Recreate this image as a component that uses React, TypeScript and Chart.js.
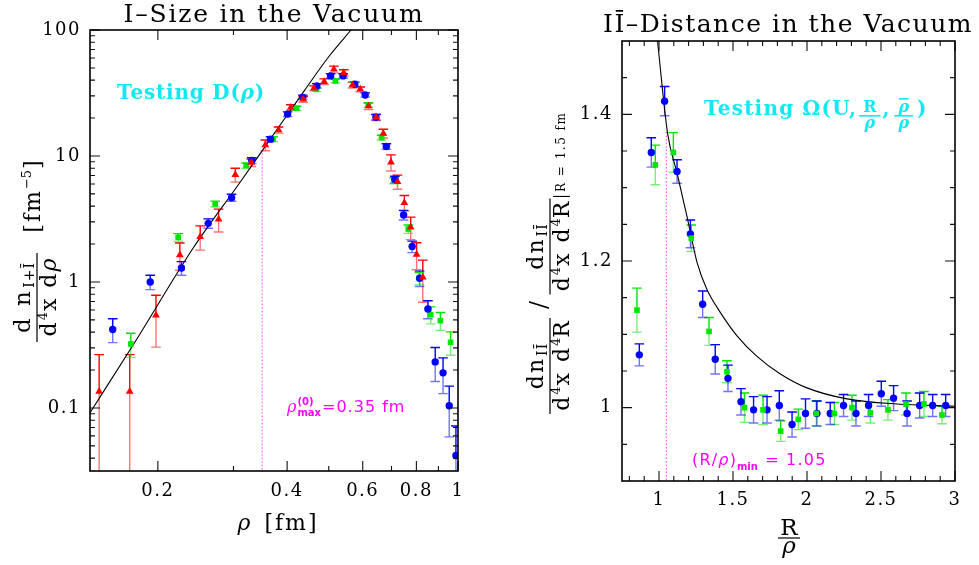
import { useEffect, useRef } from 'react';
import { Chart, registerables } from 'chart.js';

Chart.register(...registerables);

// ---------------- Left panel: instanton size distribution ----------------
const sizeBlueRho = [0.157, 0.192, 0.227, 0.262, 0.297, 0.331, 0.366, 0.401, 0.435, 0.469, 0.505, 0.54, 0.575, 0.608, 0.644, 0.681, 0.713, 0.747, 0.782, 0.814, 0.851, 0.885, 0.923, 0.954, 0.989];
const sizeBlueDens = [0.42, 1.0, 1.29, 2.92, 4.67, 9.2, 13.6, 21.5, 29.2, 36, 43.2, 43.2, 37.1, 30.5, 20.3, 11.9, 6.5, 3.4, 1.91, 1.07, 0.61, 0.232, 0.19, 0.104, 0.042];
const sizeBlueErr = [0.09, 0.13, 0.16, 0.25, 0.3, 0.5, 0.6, 0.9, 1.2, 1.5, 1.8, 1.8, 1.5, 1.2, 1.0, 0.6, 0.4, 0.3, 0.2, 0.15, 0.1, 0.07, 0.06, 0.045, 0.03];

const sizeGreenRho = [0.173, 0.223, 0.272, 0.321, 0.371, 0.421, 0.468, 0.518, 0.572, 0.618, 0.664, 0.71, 0.766, 0.813, 0.864, 0.91, 0.961];
const sizeGreenDens = [0.322, 2.26, 4.16, 8.4, 13.6, 23.9, 33.8, 39.4, 37.3, 25.4, 14.0, 6.37, 2.63, 1.07, 0.55, 0.493, 0.332];
const sizeGreenErr = [0.07, 0.16, 0.22, 0.4, 0.6, 0.9, 1.2, 1.3, 1.3, 1.0, 0.6, 0.35, 0.2, 0.12, 0.085, 0.08, 0.07];

const sizeRedRho = [0.146, 0.172, 0.198, 0.225, 0.251, 0.277, 0.303, 0.33, 0.356, 0.382, 0.408, 0.436, 0.462, 0.488, 0.514, 0.542, 0.568, 0.592, 0.619, 0.645, 0.67, 0.698, 0.723, 0.75, 0.776, 0.801, 0.828];
const sizeRedDens = [0.135, 0.135, 0.544, 1.64, 2.29, 3.14, 7.1, 8.86, 12.2, 16.1, 24.3, 28.2, 34.5, 38.9, 48.7, 45.8, 36.6, 33.8, 24.9, 20.3, 15.1, 8.9, 6.25, 4.26, 2.72, 1.65, 1.09];
const sizeRedErr = [0.13, 0.13, 0.24, 0.4, 0.5, 0.65, 0.9, 0.6, 1.2, 0.9, 1.2, 1.5, 1.5, 2.0, 3.0, 2.5, 2.0, 1.5, 1.5, 1.2, 1.2, 1.3, 0.8, 0.6, 0.55, 0.4, 0.4];

const sizeCurveRho = [0.139, 0.178, 0.2415, 0.31, 0.358, 0.44, 0.503, 0.5635];
const sizeCurveDens = [0.0917, 0.345, 1.85, 6.1, 12.3, 33.5, 63, 100];

const rhoMax0 = 0.35;
const rhoMaxTop = 10.5;
const sizeXMin = 0.139;
const sizeXMax = 1;
const sizeYMin = 0.0316;
const sizeYMax = 100;
const sizeXMajor = [0.2, 0.4, 0.6, 0.8, 1];
const sizeXMinor = [0.3, 0.5, 0.7, 0.9];
const sizeYMajor = [0.1, 1, 10, 100];
const sizeYMinor = [0.04, 0.05, 0.06, 0.07, 0.08, 0.09, 0.2, 0.3, 0.4, 0.5, 0.6, 0.7, 0.8, 0.9, 2, 3, 4, 5, 6, 7, 8, 9, 20, 30, 40, 50, 60, 70, 80, 90];

// ---------------- Right panel: I-Ibar distance distribution ----------------
const distBlueR = [0.867, 0.948, 1.038, 1.122, 1.212, 1.295, 1.38, 1.466, 1.554, 1.639, 1.73, 1.813, 1.899, 1.99, 2.067, 2.157, 2.247, 2.331, 2.416, 2.502, 2.585, 2.676, 2.761, 2.849, 2.937];
const distBlueVal = [1.072, 1.348, 1.418, 1.322, 1.237, 1.141, 1.066, 1.04, 1.008, 0.997, 0.997, 1.003, 0.977, 0.992, 0.992, 0.992, 1.003, 0.992, 1.003, 1.019, 1.013, 0.992, 1.003, 1.003, 1.003];
const distBlueErr = [0.015, 0.02, 0.02, 0.016, 0.019, 0.018, 0.02, 0.018, 0.018, 0.018, 0.018, 0.02, 0.017, 0.02, 0.017, 0.015, 0.015, 0.017, 0.015, 0.017, 0.017, 0.017, 0.017, 0.015, 0.015];

const distGreenR = [0.851, 0.975, 1.097, 1.218, 1.338, 1.459, 1.578, 1.703, 1.822, 1.941, 2.063, 2.185, 2.304, 2.428, 2.547, 2.669, 2.79, 2.912];
const distGreenVal = [1.133, 1.331, 1.348, 1.231, 1.104, 1.049, 1.0, 0.997, 0.968, 0.984, 0.992, 0.992, 1.0, 0.993, 0.997, 1.005, 1.005, 0.99];
const distGreenErr = [0.03, 0.027, 0.027, 0.018, 0.019, 0.015, 0.02, 0.02, 0.014, 0.014, 0.017, 0.015, 0.017, 0.014, 0.014, 0.015, 0.017, 0.012];

const distCurveR = [0.99, 1.058, 1.122, 1.189, 1.257, 1.324, 1.414, 1.527, 1.662, 1.82, 2.0, 2.27, 2.608, 3.0];
const distCurveVal = [1.5, 1.374, 1.32, 1.261, 1.198, 1.161, 1.13, 1.098, 1.07, 1.046, 1.027, 1.012, 1.005, 1.002];

const rOverRhoMin = 1.05;
const rOverRhoTop = 1.376;
const distXMin = 0.75;
const distXMax = 3;
const distYMin = 0.9;
const distYMax = 1.5;
const distXMajor = [1, 1.5, 2, 2.5, 3];
const distXMinor = [0.8, 0.9, 1.1, 1.2, 1.3, 1.4, 1.6, 1.7, 1.8, 1.9, 2.1, 2.2, 2.3, 2.4, 2.6, 2.7, 2.8, 2.9];
const distYMajor = [1, 1.2, 1.4];
const distYMinor = [0.95, 1.05, 1.1, 1.15, 1.25, 1.3, 1.35, 1.45];

// ---------------- styles ----------------
const SERIF = 'DejaVu Serif';
const SANS = 'DejaVu Sans';
const CYAN = '#10e8f2';
const MAGENTA = '#ff00ff';
const DOT_MAGENTA = '#ff66ff';
const BLUE = '#0000ff';
const GREEN = '#00e600';
const RED = '#ff0000';

const pts = (xs: number[], ys: number[]) => xs.map((x, i) => ({ x, y: ys[i] }));
const fmt = (v: any) => String(+Number(v).toPrecision(6));

type Run = { t: string; size: number; dy?: number; style?: string; weight?: string; family?: string; sp?: number; gap?: number };

function setFont(ctx: any, r: { size: number; style?: string; weight?: string; family?: string; sp?: number }) {
  ctx.font = `${r.style ?? 'normal'} ${r.weight ?? 'normal'} ${r.size}px "${r.family ?? SERIF}"`;
  ctx.letterSpacing = `${r.sp ?? 0}px`;
}

function drawRuns(ctx: any, list: Run[], x: number, y: number, color: string, align: 'left' | 'center' = 'left'): number {
  ctx.textAlign = 'left';
  ctx.textBaseline = 'alphabetic';
  ctx.fillStyle = color;
  const ws = list.map((r) => {
    setFont(ctx, r);
    return ctx.measureText(r.t).width + (r.gap ?? 0);
  });
  const total = ws.reduce((a, b) => a + b, 0);
  let cx = align === 'center' ? x - total / 2 : x;
  list.forEach((r, i) => {
    setFont(ctx, r);
    ctx.fillText(r.t, cx + (r.gap ?? 0), y + (r.dy ?? 0));
    cx += ws[i];
  });
  return total;
}

type TickSpec = { xMajor: number[]; xMinor: number[]; yMajor: number[]; yMinor: number[] };

function drawFrame(chart: any, t: TickSpec) {
  const ctx = chart.ctx;
  const a = chart.chartArea;
  const xs = chart.scales.x;
  const ys = chart.scales.y;
  ctx.save();
  ctx.strokeStyle = '#111';
  ctx.lineWidth = 1.1;
  ctx.setLineDash([]);
  const vt = (v: number, len: number) => {
    const p = xs.getPixelForValue(v);
    ctx.moveTo(p, a.bottom);
    ctx.lineTo(p, a.bottom - len);
    ctx.moveTo(p, a.top);
    ctx.lineTo(p, a.top + len);
  };
  const ht = (v: number, len: number) => {
    const p = ys.getPixelForValue(v);
    ctx.moveTo(a.left, p);
    ctx.lineTo(a.left + len, p);
    ctx.moveTo(a.right, p);
    ctx.lineTo(a.right - len, p);
  };
  ctx.beginPath();
  t.xMajor.forEach((v) => vt(v, 10));
  t.xMinor.forEach((v) => vt(v, 5));
  t.yMajor.forEach((v) => ht(v, 10));
  t.yMinor.forEach((v) => ht(v, 5));
  ctx.stroke();
  ctx.strokeStyle = '#000';
  ctx.lineWidth = 1.6;
  ctx.strokeRect(a.left, a.top, a.right - a.left, a.bottom - a.top);
  ctx.restore();
}

const errorBarPlugin = {
  id: 'errorBars',
  beforeDatasetsDraw(chart: any) {
    const ctx = chart.ctx;
    const a = chart.chartArea;
    const xs = chart.scales.x;
    const ys = chart.scales.y;
    ctx.save();
    ctx.beginPath();
    ctx.rect(a.left, a.top, a.right - a.left, a.bottom - a.top);
    ctx.clip();
    ctx.lineWidth = 1.4;
    chart.data.datasets.forEach((ds: any) => {
      if (!ds.errors) return;
      ds.data.forEach((p: any, i: number) => {
        const e = ds.errors[i];
        const px = xs.getPixelForValue(p.x);
        const py = ys.getPixelForValue(p.y);
        const top = ys.getPixelForValue(p.y + e);
        const low = p.y - e;
        const bot = low > 0 ? ys.getPixelForValue(low) : a.bottom + 20;
        const cap = 4.8;
        ctx.strokeStyle = ds.errColor;
        ctx.beginPath();
        ctx.moveTo(px, py);
        ctx.lineTo(px, top);
        ctx.moveTo(px - cap, top);
        ctx.lineTo(px + cap, top);
        ctx.stroke();
        ctx.strokeStyle = ds.errLow;
        ctx.beginPath();
        ctx.moveTo(px, py);
        ctx.lineTo(px, bot);
        ctx.moveTo(px - cap, bot);
        ctx.lineTo(px + cap, bot);
        ctx.stroke();
      });
    });
    ctx.restore();
  },
};

const tickSpacingPlugin = {
  id: 'tickSpacing',
  beforeDraw(chart: any) {
    chart.ctx.letterSpacing = '1.5px';
  },
};

function drawLeftDecor(ctx: any) {
  drawRuns(ctx, [{ t: 'I–Size in the Vacuum', size: 25, sp: 1.8 }], 274, 22, '#000', 'center');
  drawRuns(
    ctx,
    [
      { t: 'Testing D(', size: 20, weight: 'bold', sp: 0.8 },
      { t: 'ρ', size: 20, weight: 'bold', style: 'italic', sp: 0.8 },
      { t: ')', size: 20, weight: 'bold' },
    ],
    117,
    99,
    CYAN
  );
  let x = 287;
  const y = 412;
  x += drawRuns(ctx, [{ t: 'ρ', size: 16, style: 'italic' }], x, y, MAGENTA);
  const w1 = drawRuns(ctx, [{ t: '(0)', size: 10, weight: 'bold', family: SANS }], x + 1, y - 7, MAGENTA);
  const w2 = drawRuns(ctx, [{ t: 'max', size: 10, weight: 'bold', family: SANS }], x + 1, y + 4, MAGENTA);
  x += Math.max(w1, w2) + 2;
  drawRuns(ctx, [{ t: '=0.35 fm', size: 16, family: SANS, sp: 1 }], x, y, MAGENTA);

  drawRuns(ctx, [{ t: 'ρ', size: 22, style: 'italic' }, { t: '[fm]', size: 22, sp: 2, gap: 14 }], 278, 530, '#000', 'center');

  ctx.save();
  ctx.translate(37, 250);
  ctx.rotate(-Math.PI / 2);
  drawRuns(ctx, [{ t: 'd n', size: 23, sp: 2.5 }, { t: 'I+Ī', size: 14, dy: 4, sp: 1, gap: 1 }], -47.5, -7, '#000', 'center');
  ctx.fillStyle = '#000';
  ctx.fillRect(-92, -0.6, 89, 1.2);
  drawRuns(
    ctx,
    [
      { t: 'd', size: 22, sp: 2 },
      { t: '4', size: 13, dy: -9 },
      { t: 'x d', size: 22, sp: 2, gap: 1 },
      { t: 'ρ', size: 22, style: 'italic' },
    ],
    -47.5,
    19,
    '#000',
    'center'
  );
  drawRuns(ctx, [{ t: '[fm', size: 22, sp: 2 }, { t: '−5', size: 13, dy: -9 }, { t: ']', size: 22, gap: 1 }], 53.5, 3, '#000', 'center');
  ctx.restore();
}

function cyanFrac(ctx: any, num: string, bar: boolean, x: number, y: number): number {
  setFont(ctx, { size: 16, weight: 'bold' });
  const wn = ctx.measureText(num).width;
  setFont(ctx, { size: 16, weight: 'bold', style: 'italic' });
  const wd = ctx.measureText('ρ').width;
  const w = Math.max(wn, wd) + 8;
  const cx = x + w / 2;
  drawRuns(ctx, [{ t: num, size: 16, weight: 'bold', style: bar ? 'italic' : 'normal' }], cx, y - 3, CYAN, 'center');
  ctx.fillStyle = CYAN;
  ctx.fillRect(x, y, w, 1.6);
  if (bar) ctx.fillRect(cx - 5, y - 17, 10, 1.6);
  drawRuns(ctx, [{ t: 'ρ', size: 16, weight: 'bold', style: 'italic' }], cx, y + 13, CYAN, 'center');
  return w;
}

function drawRightDecor(ctx: any) {
  drawRuns(ctx, [{ t: 'IĪ–Distance in the Vacuum', size: 25, sp: 1.5 }], 788, 32, '#000', 'center');

  const y = 115;
  let x = 704;
  x += drawRuns(ctx, [{ t: 'Testing Ω(U,', size: 20, weight: 'bold', sp: 1.2 }], x, y, CYAN);
  x += cyanFrac(ctx, 'R', false, x + 2, y) + 4;
  x += drawRuns(ctx, [{ t: ',', size: 20, weight: 'bold' }], x, y, CYAN);
  x += cyanFrac(ctx, 'ρ', true, x + 5, y) + 9;
  drawRuns(ctx, [{ t: ')', size: 20, weight: 'bold' }], x, y, CYAN);

  let mx = 692;
  const my = 465;
  mx += drawRuns(
    ctx,
    [
      { t: '(R/', size: 16, family: SANS, sp: 1.2 },
      { t: 'ρ', size: 16, style: 'italic', family: SANS, sp: 1.2 },
      { t: ')', size: 16, family: SANS },
    ],
    mx,
    my,
    MAGENTA
  );
  mx += drawRuns(ctx, [{ t: 'min', size: 10, weight: 'bold', family: SANS }], mx + 1, my + 5, MAGENTA) + 2;
  drawRuns(ctx, [{ t: ' = 1.05', size: 16, family: SANS, sp: 1.2 }], mx, my, MAGENTA);

  drawRuns(ctx, [{ t: 'R', size: 23 }], 789, 535, '#000', 'center');
  ctx.fillStyle = '#000';
  ctx.fillRect(778, 537.4, 22, 1.2);
  drawRuns(ctx, [{ t: 'ρ', size: 23, style: 'italic' }], 789, 553, '#000', 'center');

  ctx.save();
  ctx.translate(550, 255);
  ctx.rotate(-Math.PI / 2);
  const frac = (cx: number) => {
    drawRuns(ctx, [{ t: 'dn', size: 22, sp: 2 }, { t: 'IĪ', size: 14, dy: 4, sp: 1, gap: 1 }], cx, -7, '#000', 'center');
    ctx.fillStyle = '#000';
    ctx.fillRect(cx - 48, -0.6, 96, 1.2);
    drawRuns(
      ctx,
      [
        { t: 'd', size: 22, sp: 2 },
        { t: '4', size: 13, dy: -9 },
        { t: 'x d', size: 22, sp: 2, gap: 1 },
        { t: '4', size: 13, dy: -9 },
        { t: 'R', size: 22 },
      ],
      cx,
      19,
      '#000',
      'center'
    );
  };
  frac(-111);
  drawRuns(ctx, [{ t: '/', size: 24 }], -50, -3, '#000', 'center');
  frac(8.5);
  ctx.fillStyle = '#000';
  ctx.fillRect(58, 3, 1.1, 17);
  drawRuns(ctx, [{ t: 'R = 1.5 fm', size: 12, sp: 1.5 }], 63, 15, '#000');
  ctx.restore();
}

type Panel = {
  datasets: any[];
  xType: 'logarithmic' | 'linear';
  yType: 'logarithmic' | 'linear';
  xMin: number;
  xMax: number;
  yMin: number;
  yMax: number;
  ticks: TickSpec;
  padding: { left: number; right: number; top: number; bottom: number };
  yWidth: number;
  xHeight: number;
  xPad: number;
  yPad: number;
  offsetX: number;
  decor: (ctx: any) => void;
};

function makeConfig(p: Panel): any {
  const tickFont = { family: SERIF, size: 18 };
  const decorPlugin = {
    id: 'decor',
    afterDraw(chart: any) {
      drawFrame(chart, p.ticks);
      const ctx = chart.ctx;
      ctx.save();
      ctx.translate(-p.offsetX, 0);
      p.decor(ctx);
      ctx.restore();
    },
  };
  return {
    type: 'scatter',
    data: { datasets: p.datasets },
    options: {
      animation: false,
      responsive: false,
      events: [],
      layout: { padding: p.padding },
      plugins: { legend: { display: false }, tooltip: { enabled: false }, title: { display: false } },
      scales: {
        x: {
          type: p.xType,
          min: p.xMin,
          max: p.xMax,
          grid: { display: false, drawTicks: false },
          border: { display: false },
          ticks: { autoSkip: false, maxRotation: 0, minRotation: 0, padding: p.xPad, font: tickFont, color: '#000', callback: (v: any) => fmt(v) },
          afterBuildTicks: (s: any) => {
            s.ticks = p.ticks.xMajor.map((v) => ({ value: v }));
          },
          afterFit: (s: any) => {
            s.height = p.xHeight;
          },
        },
        y: {
          type: p.yType,
          min: p.yMin,
          max: p.yMax,
          grid: { display: false, drawTicks: false },
          border: { display: false },
          ticks: { autoSkip: false, padding: p.yPad, font: tickFont, color: '#000', callback: (v: any) => fmt(v) },
          afterBuildTicks: (s: any) => {
            s.ticks = p.ticks.yMajor.map((v) => ({ value: v }));
          },
          afterFit: (s: any) => {
            s.width = p.yWidth;
          },
        },
      },
    },
    plugins: [tickSpacingPlugin, errorBarPlugin, decorPlugin],
  };
}

const markers = (data: any[], errors: number[], style: string, radius: number, color: string, low: string) => ({
  data,
  errors,
  errColor: color,
  errLow: low,
  pointStyle: style,
  pointRadius: radius,
  pointBackgroundColor: color,
  pointBorderColor: color,
  pointBorderWidth: 0,
  showLine: false,
});

const curve = (data: any[]) => ({
  data,
  showLine: true,
  pointRadius: 0,
  borderColor: '#000',
  borderWidth: 1.1,
  cubicInterpolationMode: 'monotone',
  fill: false,
});

const dotted = (data: any[]) => ({
  data,
  showLine: true,
  pointRadius: 0,
  borderColor: DOT_MAGENTA,
  borderWidth: 1.2,
  borderDash: [1.5, 2],
  fill: false,
});

const leftPanel: Panel = {
  datasets: [
    markers(pts(sizeRedRho, sizeRedDens), sizeRedErr, 'triangle', 4.5, RED, 'rgba(255,0,0,0.55)'),
    markers(pts(sizeBlueRho, sizeBlueDens), sizeBlueErr, 'circle', 3.7, BLUE, 'rgba(0,0,255,0.55)'),
    markers(pts(sizeGreenRho, sizeGreenDens), sizeGreenErr, 'rect', 4, GREEN, 'rgba(0,230,0,0.55)'),
    curve(pts(sizeCurveRho, sizeCurveDens)),
    dotted([
      { x: rhoMax0, y: rhoMaxTop },
      { x: rhoMax0, y: sizeYMin },
    ]),
  ],
  xType: 'logarithmic',
  yType: 'logarithmic',
  xMin: sizeXMin,
  xMax: sizeXMax,
  yMin: sizeYMin,
  yMax: sizeYMax,
  ticks: { xMajor: sizeXMajor, xMinor: sizeXMinor, yMajor: sizeYMajor, yMinor: sizeYMinor },
  padding: { left: 0, right: 42, top: 30, bottom: 0 },
  yWidth: 90,
  xHeight: 94,
  xPad: 10,
  yPad: 9,
  offsetX: 0,
  decor: drawLeftDecor,
};

const rightPanel: Panel = {
  datasets: [
    markers(pts(distGreenR, distGreenVal), distGreenErr, 'rect', 4, GREEN, 'rgba(0,230,0,0.55)'),
    markers(pts(distBlueR, distBlueVal), distBlueErr, 'circle', 3.7, BLUE, 'rgba(0,0,255,0.55)'),
    curve(pts(distCurveR, distCurveVal)),
    dotted([
      { x: rOverRhoMin, y: rOverRhoTop },
      { x: rOverRhoMin, y: distYMin },
    ]),
  ],
  xType: 'linear',
  yType: 'linear',
  xMin: distXMin,
  xMax: distXMax,
  yMin: distYMin,
  yMax: distYMax,
  ticks: { xMajor: distXMajor, xMinor: distXMinor, yMajor: distYMajor, yMinor: distYMinor },
  padding: { left: 0, right: 24, top: 41, bottom: 0 },
  yWidth: 122,
  xHeight: 84,
  xPad: 9,
  yPad: 9,
  offsetX: 500,
  decor: drawRightDecor,
};

function PanelChart({ panel, left, width }: { panel: Panel; left: number; width: number }) {
  const ref = useRef<HTMLCanvasElement | null>(null);
  useEffect(() => {
    if (!ref.current) return;
    const chart = new Chart(ref.current, makeConfig(panel));
    return () => chart.destroy();
  }, [panel]);
  return (
    <canvas
      ref={ref}
      width={width}
      height={565}
      style={{ position: 'absolute', left, top: 0, width, height: 565, display: 'block' }}
    />
  );
}

export default function App() {
  return (
    <div style={{ position: 'fixed', left: 0, top: 0, width: 979, height: 565, background: '#fff', overflow: 'hidden' }}>
      <PanelChart panel={leftPanel} left={0} width={500} />
      <PanelChart panel={rightPanel} left={500} width={479} />
    </div>
  );
}
